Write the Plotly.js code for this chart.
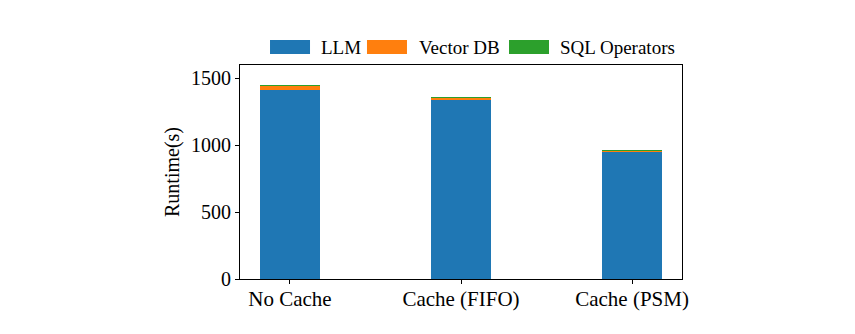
<!DOCTYPE html>
<html>
<head>
<meta charset="utf-8">
<script src="https://cdn.plot.ly/plotly-3.0.1.min.js"></script>
<style>html,body{margin:0;padding:0;background:#fff;}#chart{width:855px;height:334px;}</style>
</head>
<body>
<div id="chart"></div>
<script>
const categories = ["No Cache", "Cache (FIFO)", "Cache (PSM)"];
const llm = [1410, 1340, 948];
const vectorDB = [33, 10, 7];
const sqlOps = [5, 8, 10];
const seriesNames = ["LLM", "Vector DB", "SQL Operators"];
const seriesColors = ["#1f77b4", "#ff7f0e", "#2ca02c"];
const yTicks = [0, 500, 1000, 1500];

const FONT = "Liberation Serif, Times New Roman, serif";
const xIdx = categories.map((_, i) => i);
const seriesVals = [llm, vectorDB, sqlOps];

const traces = seriesVals.map((vals, k) => ({
  type: "bar",
  x: xIdx,
  y: vals,
  name: seriesNames[k],
  marker: {color: seriesColors[k], line: {width: 0}},
  width: 0.35,
  showlegend: false,
  hoverinfo: "y+name"
}));

// custom legend (swatches + labels) placed above plot
const swX = [[0.0679, 0.1584], [0.2873, 0.3778], [0.6086, 0.6991]];
const txX = [0.1787, 0.4005, 0.7195];
const shapes = swX.map((s, k) => ({
  type: "rect", xref: "paper", yref: "paper",
  x0: s[0], x1: s[1], y0: 1.0514, y1: 1.1168,
  fillcolor: seriesColors[k], line: {width: 0}
}));
const annotations = seriesNames.map((n, k) => ({
  xref: "paper", yref: "paper", x: txX[k], y: 1.084,
  xanchor: "left", yanchor: "middle", showarrow: false,
  text: n, font: {family: FONT, size: 19, color: "#000"}
}));

const layout = {
  width: 855, height: 334,
  margin: {l: 240, r: 173, t: 65, b: 55},
  paper_bgcolor: "#fff", plot_bgcolor: "#fff",
  barmode: "stack",
  font: {family: FONT, color: "#000"},
  xaxis: {
    range: [-0.292, 2.292],
    tickvals: xIdx, ticktext: categories,
    tickfont: {family: FONT, size: 21, color: "#000"},
    ticks: "outside", ticklen: 4, tickwidth: 1, tickcolor: "#000",
    ticklabelstandoff: -3,
    showline: true, linecolor: "#000", linewidth: 1, mirror: true,
    showgrid: false, zeroline: false, fixedrange: true
  },
  yaxis: {
    range: [0, 1600],
    tickvals: yTicks,
    tickfont: {family: FONT, size: 20, color: "#000"},
    ticks: "outside", ticklen: 4, tickwidth: 1, tickcolor: "#000",
    showline: true, linecolor: "#000", linewidth: 1, mirror: true,
    showgrid: false, zeroline: false, fixedrange: true,
    title: {text: "Runtime(s)", font: {family: FONT, size: 20, color: "#000"}, standoff: 6}
  },
  shapes: shapes,
  annotations: annotations
};

Plotly.newPlot("chart", traces, layout, {staticPlot: true, displayModeBar: false});
</script>
</body>
</html>
